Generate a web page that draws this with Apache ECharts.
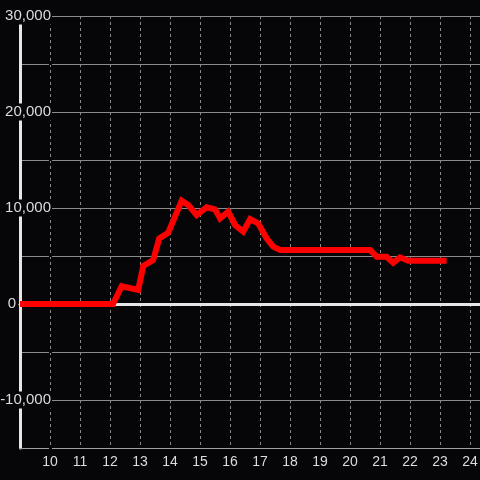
<!DOCTYPE html>
<html>
<head>
<meta charset="utf-8">
<script src="https://cdn.jsdelivr.net/npm/echarts@6/dist/echarts.min.js"></script>
<style>
html,body{margin:0;padding:0;background:#060508;}
#c{width:480px;height:480px;}
</style>
</head>
<body>
<div id="c"></div>
<script>
var hours = [9, 12.1, 12.39, 12.94, 13.11, 13.44, 13.64, 13.94, 14.39, 14.61, 14.89, 15.22, 15.5, 15.67, 15.94, 16.17, 16.44, 16.67, 16.94, 17.22, 17.44, 17.67, 20.67, 20.89, 21.22, 21.44, 21.67, 21.94, 23.22];
var values = [0, 0, 1850, 1460, 3960, 4580, 6840, 7430, 10750, 10310, 9270, 10070, 9860, 8920, 9620, 8230, 7530, 8850, 8400, 6840, 5970, 5625, 5625, 4930, 4930, 4300, 4860, 4510, 4510];
var xTicks = [10, 11, 12, 13, 14, 15, 16, 17, 18, 19, 20, 21, 22, 23, 24];
var yLabelValues = [30000, 20000, 10000, -10000];

var FONT = 'Liberation Sans';
var TXT = '#dcdcdc';
var pairs = hours.map(function (h, i) { return [h, values[i]]; });
function fmt(v) { return v.toLocaleString('en-US'); }

var chart = echarts.init(document.getElementById('c'), null, {renderer: 'canvas'});
chart.setOption({
  backgroundColor: '#060508',
  animation: false,
  grid: {left: 20, right: 0, top: 16, bottom: 32, containLabel: false, outerBoundsMode: 'none'},
  xAxis: [{
    type: 'value', min: 9, max: 24.3333, interval: 1,
    axisLine: {onZero: false, lineStyle: {color: '#a0a0a0', width: 1}},
    axisTick: {show: false},
    axisLabel: {
      color: TXT, fontFamily: FONT, fontSize: 14, margin: 7,
      showMinLabel: false,
      formatter: function (v) { return xTicks.indexOf(v) >= 0 ? String(v) : ''; }
    },
    splitLine: {show: true, lineStyle: {color: '#8a8a8a', type: [3, 3], width: 1}}
  }, {
    type: 'value', min: 9, max: 24.3333, position: 'bottom',
    axisLine: {onZero: true, lineStyle: {color: '#e6e6e6', width: 3}},
    axisTick: {show: false}, axisLabel: {show: false}, splitLine: {show: false}
  }],
  yAxis: [{
    type: 'value', min: -15000, max: 30000, interval: 5000,
    axisLine: {show: true, onZero: false, lineStyle: {color: '#e6e6e6', width: 3}},
    axisTick: {show: false},
    axisLabel: {
      color: TXT, fontFamily: FONT, fontSize: 15, margin: 4,
      formatter: function (v) { return v === 0 ? '0' : ''; }
    },
    splitLine: {show: true, lineStyle: {color: '#8a8a8a', width: 1}}
  }, {
    type: 'value', min: -15000, max: 30000, interval: 5000, position: 'left', z: 5,
    axisLine: {show: false}, axisTick: {show: false}, splitLine: {show: false},
    axisLabel: {
      color: TXT, fontFamily: FONT, fontSize: 15, margin: -32,
      backgroundColor: '#060508', padding: [1, 1, 1, 2],
      formatter: function (v) { return yLabelValues.indexOf(v) >= 0 ? fmt(v) : ''; }
    }
  }],
  series: [{
    type: 'line', xAxisIndex: 0, yAxisIndex: 0,
    data: pairs, showSymbol: false, symbol: 'none', z: 10,
    lineStyle: {color: '#ff0000', width: 6, cap: 'butt', join: 'miter'}
  }]
});
</script>
</body>
</html>
